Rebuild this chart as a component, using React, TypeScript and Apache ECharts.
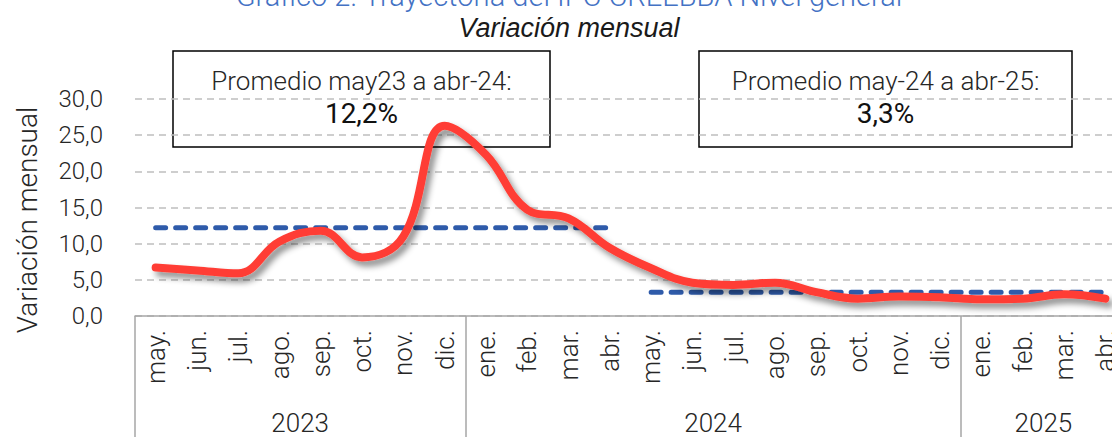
import React, { useEffect, useRef } from "react";
import * as echarts from "echarts";

const months = [
  "may.", "jun.", "jul.", "ago.", "sep.", "oct.", "nov.", "dic.",
  "ene.", "feb.", "mar.", "abr.", "may.", "jun.", "jul.", "ago.", "sep.", "oct.", "nov.", "dic.",
  "ene.", "feb.", "mar.", "abr.",
];
const years = ["2023", "2024", "2025"];
const monthsPerYear = [8, 12, 4];
const monthly = [
  6.7, 6.3, 5.9, 10.3, 11.8, 8.1, 11.0, 26.3,
  22.3, 14.7, 13.5, 9.4, 6.6, 4.6, 4.3, 4.6, 3.3, 2.4, 2.7, 2.6,
  2.3, 2.4, 3.0, 2.4,
];
const avgFirst = 12.2;
const avgSecond = 3.3;
const splitIndex = 12;
const yTicks = { min: 0, max: 30, interval: 5 };

const FONT = "Roboto";

export default function App() {
  const ref = useRef<HTMLDivElement>(null);
  useEffect(() => {
    if (!ref.current) return;
    const chart = echarts.init(ref.current, null, { renderer: "svg" });

    const bounds: number[] = [0];
    monthsPerYear.forEach((n) => bounds.push(bounds[bounds.length - 1] + n));
    const centres = monthsPerYear.map((n, i) => bounds[i] + n / 2);
    const yearAt: Record<string, string> = {};
    centres.forEach((c, i) => (yearAt[String(c)] = years[i]));

    const avg1 = months.map((_, i) => (i < splitIndex ? avgFirst : null));
    const avg2 = months.map((_, i) => (i >= splitIndex ? avgSecond : null));
    const fmt = (v: number) => v.toFixed(1).replace(".", ",");

    const avgLine = {
      color: "#2F5BAA",
      width: 5,
      type: [10, 10],
      cap: "round",
    };

    chart.setOption({
      animation: false,
      backgroundColor: "#fff",
      grid: { left: 135, right: 14, top: 99, bottom: 121 },
      xAxis: [
        {
          type: "category",
          data: months,
          boundaryGap: true,
          axisLine: { show: true, lineStyle: { color: "#A6A6A6", width: 1.5 } },
          axisTick: { show: false },
          axisLabel: {
            rotate: 90,
            margin: 14,
            interval: 0,
            fontFamily: FONT,
            fontWeight: 300,
            fontSize: 26,
            color: "#262626",
          },
          splitLine: { show: false },
        },
        {
          type: "value",
          position: "bottom",
          min: 0,
          max: months.length,
          axisLine: { show: false },
          axisTick: {
            show: true,
            customValues: bounds,
            length: 125,
            lineStyle: { color: "#A6A6A6", width: 1.5 },
          },
          axisLabel: {
            show: true,
            customValues: centres,
            margin: 94,
            fontFamily: FONT,
            fontWeight: 300,
            fontSize: 26,
            color: "#262626",
            formatter: (v: number) => yearAt[String(v)] ?? "",
          },
          splitLine: { show: false },
        },
      ],
      yAxis: {
        type: "value",
        min: yTicks.min,
        max: yTicks.max,
        interval: yTicks.interval,
        name: "Variación mensual",
        nameLocation: "middle",
        nameGap: 94,
        nameTextStyle: {
          fontFamily: FONT,
          fontWeight: 300,
          fontSize: 28,
          color: "#262626",
          padding: [0, 25, 0, 0],
        },
        axisLine: { show: false },
        axisTick: { show: false },
        axisLabel: {
          margin: 32,
          fontFamily: FONT,
          fontWeight: 300,
          fontSize: 24,
          color: "#262626",
          formatter: fmt,
        },
        splitLine: {
          show: true,
          lineStyle: { color: "#BFBFBF", width: 1.5, type: [7, 5] },
        },
      },
      series: [
        {
          type: "line",
          data: avg1,
          xAxisIndex: 0,
          symbol: "none",
          z: 2,
          lineStyle: avgLine,
        },
        {
          type: "line",
          data: avg2,
          xAxisIndex: 0,
          symbol: "none",
          z: 2,
          lineStyle: avgLine,
        },
        {
          type: "line",
          data: monthly,
          xAxisIndex: 0,
          symbol: "none",
          smooth: 0.4,
          z: 3,
          lineStyle: {
            color: "#FF3E34",
            width: 8,
            cap: "round",
            join: "round",
            shadowColor: "rgba(0,0,0,0.45)",
            shadowBlur: 6,
            shadowOffsetX: 4,
            shadowOffsetY: 5,
          },
        },
      ],
      graphic: [
        {
          type: "text",
          x: 569,
          y: -4,
          z: 100,
          style: {
            text: "Gráfico 2. Trayectoria del IPC CREEBBA Nivel general",
            fontFamily: FONT,
            fontWeight: 300,
            fontSize: 29,
            fill: "#4472C4",
            align: "center",
            verticalAlign: "middle",
          },
        },
        {
          type: "text",
          x: 569,
          y: 28,
          z: 100,
          style: {
            text: "Variación mensual",
            fontFamily: "Liberation Sans",
            fontStyle: "italic",
            fontSize: 27,
            fill: "#1a1a1a",
            align: "center",
            verticalAlign: "middle",
          },
        },
        {
          type: "group",
          z: 100,
          children: [
            {
              type: "rect",
              shape: { x: 173, y: 51, width: 377, height: 96 },
              style: { fill: "rgba(255,255,255,0.5)", stroke: "#000", lineWidth: 1.5 },
            },
            {
              type: "text",
              x: 361.5,
              y: 81,
              style: {
                text: "Promedio may23 a abr-24:",
                fontFamily: FONT,
                fontWeight: 300,
                fontSize: 26,
                fill: "#262626",
                align: "center",
                verticalAlign: "middle",
              },
            },
            {
              type: "text",
              x: 361.5,
              y: 113,
              style: {
                text: "12,2%",
                fontFamily: FONT,
                fontWeight: 400,
                fontSize: 28,
                fill: "#111",
                align: "center",
                verticalAlign: "middle",
              },
            },
            {
              type: "rect",
              shape: { x: 699, y: 51, width: 373, height: 96 },
              style: { fill: "rgba(255,255,255,0.5)", stroke: "#000", lineWidth: 1.5 },
            },
            {
              type: "text",
              x: 885.5,
              y: 81,
              style: {
                text: "Promedio may-24 a abr-25:",
                fontFamily: FONT,
                fontWeight: 300,
                fontSize: 26,
                fill: "#262626",
                align: "center",
                verticalAlign: "middle",
              },
            },
            {
              type: "text",
              x: 885.5,
              y: 113,
              style: {
                text: "3,3%",
                fontFamily: FONT,
                fontWeight: 400,
                fontSize: 28,
                fill: "#111",
                align: "center",
                verticalAlign: "middle",
              },
            },
          ],
        },
      ],
    });
    return () => chart.dispose();
  }, []);

  return (
    <div
      style={{
        position: "fixed",
        left: 0,
        top: 0,
        width: 1112,
        height: 437,
        overflow: "hidden",
        background: "#fff",
      }}
    >
      <div ref={ref} style={{ width: 1140, height: 437 }} />
    </div>
  );
}
